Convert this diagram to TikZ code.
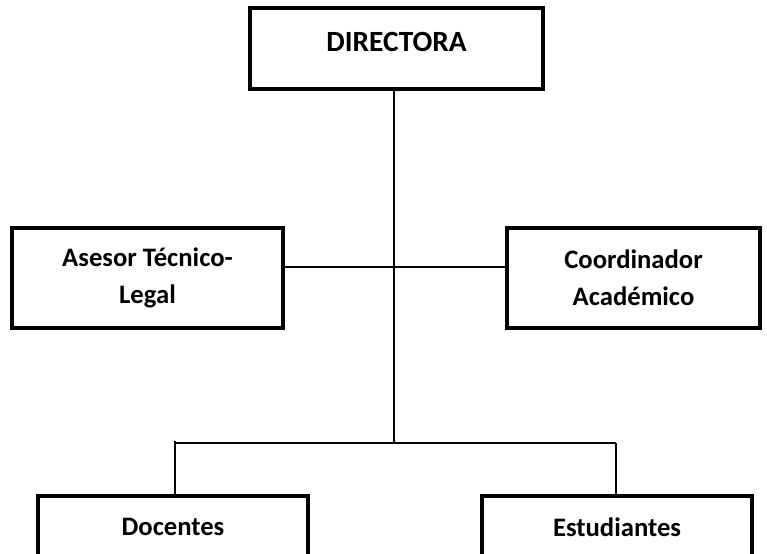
\documentclass[tikz,border=0pt]{standalone}
\usepackage{fontspec}
\setmainfont{Carlito}
\begin{document}
\begin{tikzpicture}[x=0.75pt,y=-0.75pt,
  orgbox/.style={draw=black,line width=3pt,fill=white,align=center,inner sep=0pt,
    font=\bfseries\fontsize{20}{28}\selectfont},
  conn/.style={draw=black,line width=1.1pt}]
\useasboundingbox (0,0) rectangle (767,553);
\clip (0,0) rectangle (767,553);
\coordinate (mid) at (394,267);
\coordinate (j) at (394,443);
\coordinate (jl) at (175,443);
\coordinate (jr) at (616,443);
\node[orgbox,font=\bfseries\fontsize{22}{28}\selectfont,minimum width=219.75pt,minimum height=60.75pt,text depth=9.75pt] (dir) at (396.5,48.5) {DIRECTORA};
\node[orgbox,minimum width=203.25pt,minimum height=75pt] (ases) at (147.5,278) {Asesor Técnico-\\Legal};
\node[orgbox,minimum width=189.75pt,minimum height=75pt] (coord) at (633.5,278) {Coordinador\\Académico};
\node[orgbox,minimum width=202.5pt,minimum height=46.5pt] (doc) at (173,527) {Docentes};
\node[orgbox,minimum width=202.5pt,minimum height=46.5pt] (est) at (617,527) {Estudiantes};
\draw[conn] (j |- dir.south) -- (j);
\draw[conn] (ases.east |- mid) -- (coord.west |- mid);
\draw[conn] (jl) -- (jr);
\draw[conn] ([yshift=1.5pt]jl) -- (jl |- doc.north);
\draw[conn] (jr) -- (jr |- est.north);
\end{tikzpicture}
\end{document}
